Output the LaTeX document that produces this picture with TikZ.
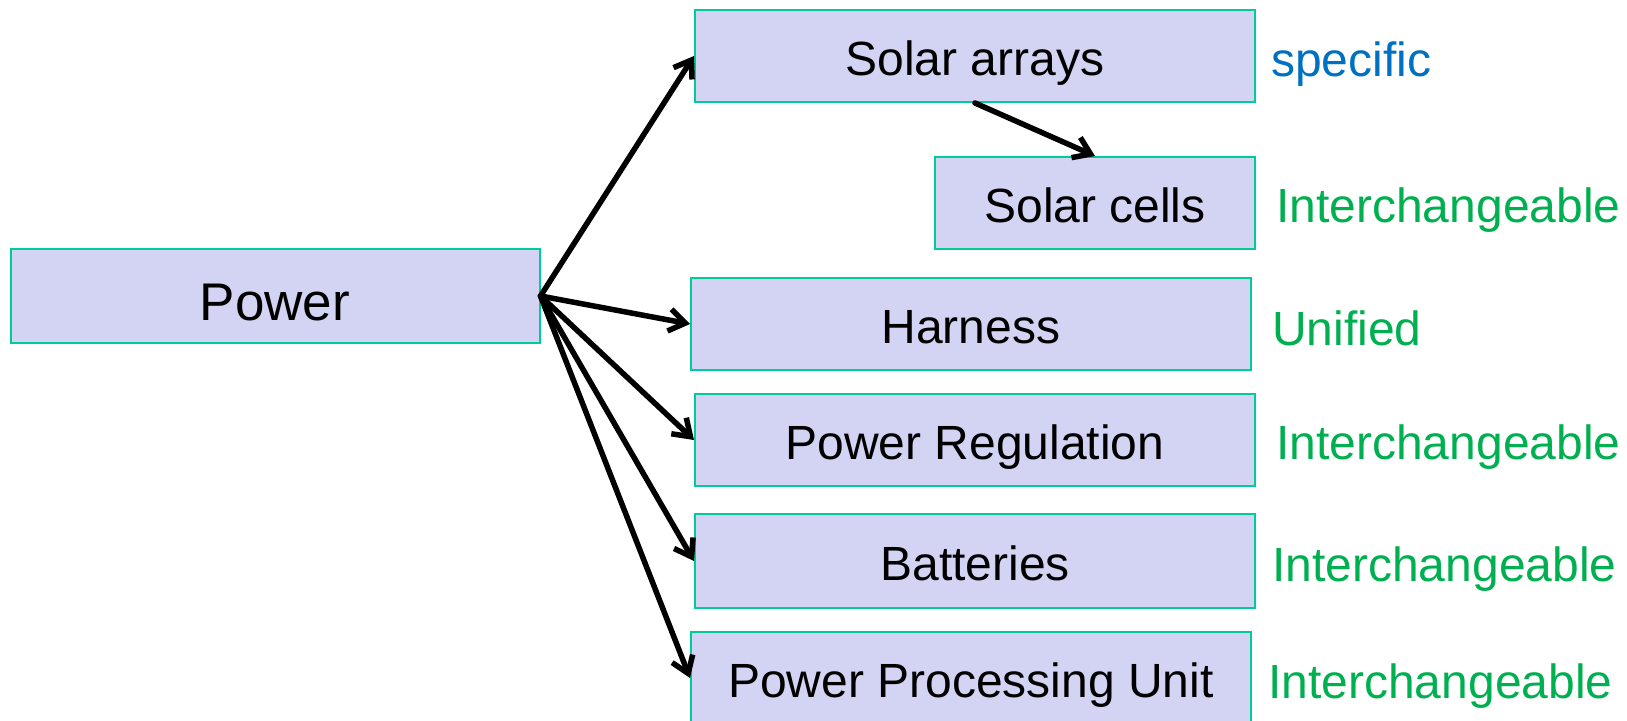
\documentclass[tikz,border=0pt]{standalone}
\usepackage{fontspec}
\setmainfont{Liberation Sans}
\usetikzlibrary{positioning,calc,arrows.meta}
\definecolor{boxfill}{RGB}{211,211,243}
\definecolor{boxline}{RGB}{0,204,153}
\definecolor{tagblue}{RGB}{0,112,192}
\definecolor{taggreen}{RGB}{0,176,80}

\begin{document}
\begin{tikzpicture}
		[x=1pt, y=-1pt,
		 blk/.style={draw=boxline, fill=boxfill, line width=2pt, inner sep=0pt,
			minimum height=92pt, text height=39pt, text depth=0pt,
			font=\fontsize{48}{58}\selectfont},
		 tag/.style={anchor=base west, inner sep=0pt, font=\fontsize{48}{58}\selectfont},
		 link/.style={line width=5.5pt, line cap=round,
			-{Straight Barb[length=16pt, width=22pt, line width=5.5pt]}}]
		\useasboundingbox (0,0) rectangle (1627,720);
		\node[blk, minimum width=529pt, minimum height=94pt, text height=48pt,
			font=\fontsize{53}{64}\selectfont] (P) at (275,296) {Power};
		\node[blk, minimum width=560pt] (SA) at (975,56) {Solar arrays};
		\node[blk, minimum width=320pt] (SC) at (1095,203) {Solar cells};
		\node[blk, minimum width=560pt] (H) at (971,324) {Harness};
		\node[blk, minimum width=560pt] (PR) at (975,440) {Power Regulation};
		\node[blk, minimum width=560pt, minimum height=94pt] (B) at (975,561) {Batteries};
		\node[blk, minimum width=560pt] (PPU) at (971,678) {Power Processing Unit};

		\node[tag, text=tagblue] at (1271,76) {specific};
		\node[tag, text=taggreen] at (1276,222) {Interchangeable};
		\node[tag, text=taggreen] at (1272,345) {Unified};
		\node[tag, text=taggreen] at (1276,459) {Interchangeable};
		\node[tag, text=taggreen] at (1272,581) {Interchangeable};
		\node[tag, text=taggreen] at (1268,698) {Interchangeable};

		\draw[link] (P.east) -- (SA.west);
		\draw[link] (P.east) -- (H.west);
		\draw[link] (P.east) -- (PR.west);
		\draw[link] (P.east) -- (B.west);
		\draw[link] (P.east) -- (PPU.west);
		\draw[link] (SA.south) -- (SC.north);
	\end{tikzpicture}
\end{document}
